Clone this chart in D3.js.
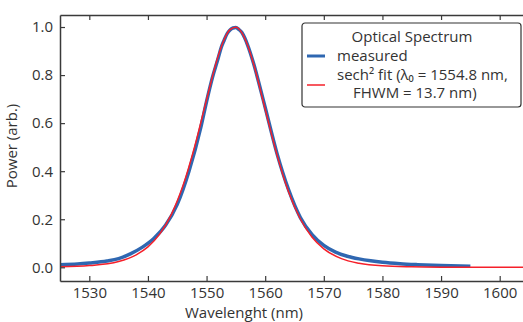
<!DOCTYPE html>
<html>
<head>
<meta charset="utf-8">
<script src="https://cdn.jsdelivr.net/npm/d3@7"></script>
<style>
  body { margin: 0; background: #fff; }
  svg { font-family: "Open Sans", sans-serif; }
</style>
</head>
<body>
<svg id="chart" width="523" height="322"></svg>
<script>
// measured spectrum
const measWl = [1525, 1528, 1530, 1533, 1535, 1537, 1539, 1541, 1543, 1545, 1547, 1549, 1550, 1551,
  1552, 1552.5, 1553, 1553.5, 1554, 1554.5, 1555, 1555.5, 1556, 1556.5, 1557, 1558, 1559, 1560,
  1562, 1564, 1566, 1568, 1570, 1572, 1574, 1576, 1578, 1580, 1583, 1586, 1590, 1595];
const measPow = [0.011, 0.014, 0.018, 0.026, 0.036, 0.056, 0.083, 0.120, 0.175, 0.262, 0.400, 0.580, 0.690, 0.790,
  0.872, 0.915, 0.945, 0.972, 0.988, 0.996, 0.998, 0.990, 0.978, 0.955, 0.925, 0.850, 0.760, 0.665,
  0.475, 0.322, 0.207, 0.136, 0.091, 0.063, 0.046, 0.035, 0.027, 0.021, 0.015, 0.011, 0.007, 0.004];

// sech^2 fit curve
const fitWl = [1525, 1530, 1535, 1538, 1540, 1542, 1544, 1546, 1548, 1550, 1552, 1553, 1554, 1555,
  1556, 1557, 1558, 1560, 1562, 1564, 1566, 1568, 1570, 1573, 1576, 1580, 1585, 1590, 1595, 1600, 1605];
const fitPow = [0.002, 0.007, 0.024, 0.052, 0.085, 0.138, 0.220, 0.341, 0.505, 0.698, 0.881, 0.948, 0.989, 0.999,
  0.977, 0.924, 0.848, 0.658, 0.469, 0.313, 0.201, 0.125, 0.077, 0.036, 0.017, 0.006, 0.002, 0.0005, 0.0001, 0, 0];

const xTicks = [1530, 1540, 1550, 1560, 1570, 1580, 1590, 1600];
const yTicks = [0, 0.2, 0.4, 0.6, 0.8, 1.0];

const margin = { top: 15, right: -6, bottom: 41, left: 60 };
const W = 523, H = 322;
const width = W - margin.left - margin.right;
const height = H - margin.top - margin.bottom;
const fontSize = '15px';

const svg = d3.select('#chart');
const g = svg.append('g').attr('transform', `translate(${margin.left},${margin.top})`);

const x = d3.scaleLinear().domain([1525, 1605]).range([0, width]);
const y = d3.scaleLinear().domain([-0.057, 1.05]).range([height, 0]);

g.append('clipPath').attr('id', 'clip')
  .append('rect').attr('width', width).attr('height', height);

const line = d3.line()
  .x(d => x(d[0]))
  .y(d => y(d[1]))
  .curve(d3.curveMonotoneX);

const plot = g.append('g').attr('clip-path', 'url(#clip)');

plot.append('path')
  .datum(measWl.map((w, i) => [w, measPow[i]]))
  .attr('fill', 'none')
  .attr('stroke', '#2f67b1')
  .attr('stroke-width', 3.5)
  .attr('d', line);

plot.append('path')
  .datum(fitWl.map((w, i) => [w, fitPow[i]]))
  .attr('fill', 'none')
  .attr('stroke', '#f5202a')
  .attr('stroke-width', 1.5)
  .attr('d', line);

// axes with inward ticks
const axisColor = '#3a3a3a';
const xb = g.append('g').attr('transform', `translate(0,${height})`)
  .call(d3.axisBottom(x).tickValues(xTicks).tickSizeInner(-5).tickSizeOuter(0).tickPadding(6)
    .tickFormat(d3.format('d')));
const xt = g.append('g')
  .call(d3.axisTop(x).tickValues(xTicks).tickSizeInner(-5).tickSizeOuter(0).tickFormat(''));
const yl = g.append('g')
  .call(d3.axisLeft(y).tickValues(yTicks).tickSizeInner(-5).tickSizeOuter(0).tickPadding(7)
    .tickFormat(d3.format('.1f')));

[xb, xt, yl].forEach(a => {
  a.select('.domain').attr('stroke', axisColor).attr('stroke-width', 1.5);
  a.selectAll('.tick line').attr('stroke', axisColor).attr('stroke-width', 1.2);
  a.selectAll('.tick text').attr('fill', '#333').style('font-size', fontSize)
    .style('font-family', '"Open Sans", sans-serif');
});

g.append('text')
  .attr('x', 244 - margin.left)
  .attr('y', height + 37)
  .attr('text-anchor', 'middle')
  .attr('fill', '#333')
  .style('font-size', fontSize)
  .text('Wavelenght (nm)');

g.append('text')
  .attr('transform', `translate(${-43},${height / 2 - 2}) rotate(-90)`)
  .attr('text-anchor', 'middle')
  .attr('fill', '#333')
  .style('font-size', fontSize)
  .text('Power (arb.)');

// legend
const legend = svg.append('g').attr('transform', 'translate(302,23)');
legend.append('rect')
  .attr('width', 219).attr('height', 84)
  .attr('rx', 3)
  .attr('fill', '#fff')
  .attr('stroke', '#333')
  .attr('stroke-width', 1.2);

legend.append('text')
  .attr('x', 110).attr('y', 19)
  .attr('text-anchor', 'middle')
  .attr('fill', '#333')
  .style('font-size', fontSize)
  .text('Optical Spectrum');

legend.append('line')
  .attr('x1', 5).attr('x2', 23).attr('y1', 33).attr('y2', 33)
  .attr('stroke', '#2f67b1').attr('stroke-width', 3);
legend.append('text')
  .attr('x', 35).attr('y', 38)
  .attr('fill', '#333').style('font-size', fontSize)
  .text('measured');

legend.append('line')
  .attr('x1', 5).attr('x2', 23).attr('y1', 62).attr('y2', 62)
  .attr('stroke', '#f5202a').attr('stroke-width', 1.5);
const fitLabel = legend.append('text')
  .attr('fill', '#333').style('font-size', fontSize);
fitLabel.append('tspan').attr('x', 35).attr('y', 57).text('sech² fit (λ₀ = 1554.8 nm,');
fitLabel.append('tspan').attr('x', 51).attr('y', 75).text('FHWM = 13.7 nm)');
</script>
</body>
</html>
